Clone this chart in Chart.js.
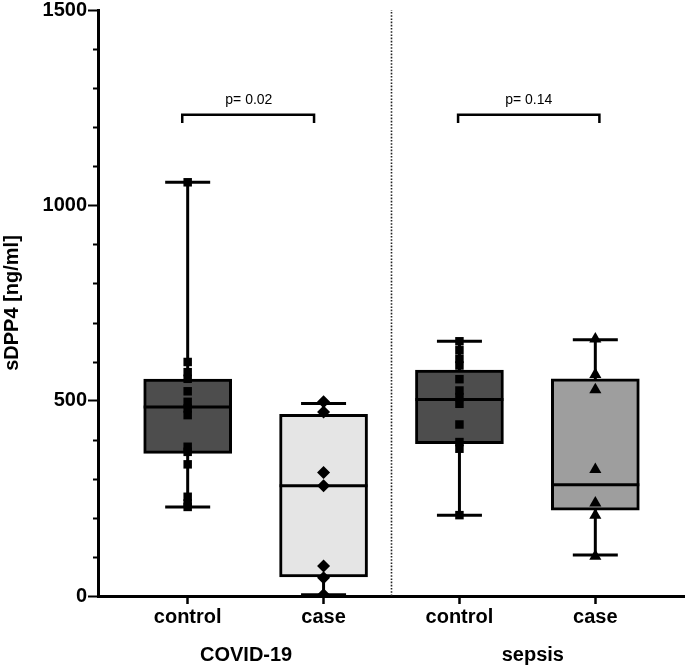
<!DOCTYPE html>
<html>
<head>
<meta charset="utf-8">
<script src="https://cdn.jsdelivr.net/npm/chart.js@4/dist/chart.umd.min.js"></script>
<style>
  html,body{margin:0;padding:0;background:#fff}
  #wrap{width:685px;height:666px;position:relative}
</style>
</head>
<body>
<div id="wrap"><canvas id="c"></canvas></div>
<script>
/* data */
const groups = ["control", "case", "control", "case"];
const groupNames = ["COVID-19", "sepsis"];
const groupNamePos = [1.43, 3.54];
const xPos = [1, 2, 3, 4];

const covidControl = [1059, 599, 573, 556, 524, 497, 480, 463, 382, 369, 337, 254, 237, 228];
const covidCase = [497, 471, 316, 282, 77, 47, 3];
const sepsisControl = [652, 629, 607, 590, 555, 526, 509, 492, 439, 394, 377, 207];
const sepsisCase = [658, 567, 528, 324, 238, 207, 102];

const boxLow = [365, 49, 390, 220];
const boxHigh = [555, 465, 578, 556];
const medians = [484, 282, 503, 285];
const whiskLow = [228, 3, 207, 105];
const whiskHigh = [1059, 493, 652, 656];

const pLabels = ["p= 0.02", "p= 0.14"];
const pLabelX = [1.45, 3.51];
const bracketLeft = [0.96, 2.99];
const bracketRight = [1.93, 4.03];
const bracketTop = 1232, bracketFoot = 1211;
const dividerX = 2.5;

const yMajor = [0, 500, 1000, 1500];

/* looks */
const FONT = '"Liberation Sans", Arial, Helvetica, sans-serif';
const boxColors = ["#4d4d4d", "#e5e5e5", "#4d4d4d", "#9e9e9e"];
const markers = ["rect", "rectRot", "rect", "triangle"];
const markerSize = [6, 6.5, 6, 7];
const pts = [covidControl, covidCase, sepsisControl, sepsisCase];

const datasets = [];

// whiskers
xPos.forEach((x, i) => {
  datasets.push({
    type: "line",
    data: [{x, y: whiskLow[i]}, {x, y: whiskHigh[i]}],
    borderColor: "#000", borderWidth: 3, pointRadius: 0, order: 6
  });
});

// boxes
datasets.push({
  type: "bar",
  data: xPos.map((x, i) => ({x, y: [boxLow[i], boxHigh[i]]})),
  backgroundColor: boxColors,
  borderColor: "#000", borderWidth: 3, borderSkipped: false,
  barThickness: 88, order: 5
});

// medians
datasets.push({
  type: "scatter",
  data: xPos.map((x, i) => ({x, y: medians[i]})),
  pointStyle: "line", pointRadius: 44,
  pointBorderColor: "#000", pointBorderWidth: 3, order: 4
});

// whisker caps
datasets.push({
  type: "scatter",
  data: xPos.flatMap((x, i) => [{x, y: whiskLow[i]}, {x, y: whiskHigh[i]}]),
  pointStyle: "line", pointRadius: 22.5,
  pointBorderColor: "#000", pointBorderWidth: 3, order: 4
});

// individual values
pts.forEach((arr, i) => {
  datasets.push({
    type: "scatter",
    data: arr.map(v => ({x: xPos[i], y: v})),
    pointStyle: markers[i], pointRadius: markerSize[i],
    pointBackgroundColor: "#000", pointBorderColor: "#000", pointBorderWidth: 0,
    order: 1
  });
});

// dotted divider
datasets.push({
  type: "line",
  data: [{x: dividerX, y: 0}, {x: dividerX, y: 1500}],
  borderColor: "#222", borderWidth: 1.6, borderDash: [1.6, 1.6],
  pointRadius: 0, order: 7
});

// significance brackets
bracketLeft.forEach((l, i) => {
  const r = bracketRight[i];
  datasets.push({
    type: "line",
    data: [{x: l, y: bracketFoot}, {x: l, y: bracketTop}, {x: r, y: bracketTop}, {x: r, y: bracketFoot}],
    borderColor: "#000", borderWidth: 2.5, pointRadius: 0, order: 3
  });
});

// minor ticks + extra labels
const extras = {
  id: "extras",
  afterDraw(chart) {
    const c = chart.ctx, x = chart.scales.x, y = chart.scales.y;
    c.save();
    c.strokeStyle = "#000";
    c.lineWidth = 2;
    for (let v = 100; v < 1500; v += 100) {
      if (v % 500 === 0) continue;
      const py = Math.round(y.getPixelForValue(v)) + 0.5;
      c.beginPath();
      c.moveTo(x.left - 5, py);
      c.lineTo(x.left, py);
      c.stroke();
    }
    c.fillStyle = "#000";
    c.textAlign = "center";
    c.textBaseline = "middle";
    c.font = "14px " + FONT;
    pLabels.forEach((t, i) => {
      c.fillText(t, x.getPixelForValue(pLabelX[i]), y.getPixelForValue(1268));
    });
    c.font = "bold 20px " + FONT;
    groupNames.forEach((t, i) => {
      c.fillText(t, x.getPixelForValue(groupNamePos[i]), x.top + 59);
    });
    c.restore();
  }
};

new Chart(document.getElementById("c"), {
  data: {datasets},
  plugins: [extras],
  options: {
    responsive: true,
    maintainAspectRatio: false,
    animation: false,
    events: [],
    layout: {autoPadding: false, padding: {top: 9, left: 0, right: 0, bottom: 0}},
    plugins: {legend: {display: false}, tooltip: {enabled: false}},
    scales: {
      x: {
        type: "linear",
        min: 0.34, max: 4.66,
        offset: false,
        afterBuildTicks: s => { s.ticks = xPos.map(v => ({value: v})); },
        afterFit: s => { s.height = 70; },
        ticks: {
          callback: (v, i) => groups[i],
          color: "#000", font: {family: FONT, size: 20, weight: "bold"},
          padding: 1, maxRotation: 0, autoSkip: false
        },
        grid: {offset: false, drawOnChartArea: false, tickLength: 8, tickWidth: 2.5, tickColor: "#000"},
        border: {color: "#000", width: 3}
      },
      y: {
        type: "linear",
        min: 0, max: 1500,
        afterFit: s => { s.width = 98; },
        ticks: {
          stepSize: 100,
          callback: v => (yMajor.includes(v) ? v : ""),
          color: "#000", font: {family: FONT, size: 20, weight: "bold", lineHeight: 0.9},
          padding: 1
        },
        grid: {
          drawOnChartArea: false, tickLength: 10, tickWidth: 2,
          tickColor: c => (c.tick && yMajor.includes(c.tick.value) ? "#000" : "rgba(0,0,0,0)")
        },
        border: {color: "#000", width: 3},
        title: {
          display: true, text: "sDPP4 [ng/ml]", color: "#000",
          font: {family: FONT, size: 20, weight: "bold", lineHeight: 1.1}, padding: {top: 1, bottom: 0}
        }
      }
    }
  }
});
</script>
</body>
</html>
